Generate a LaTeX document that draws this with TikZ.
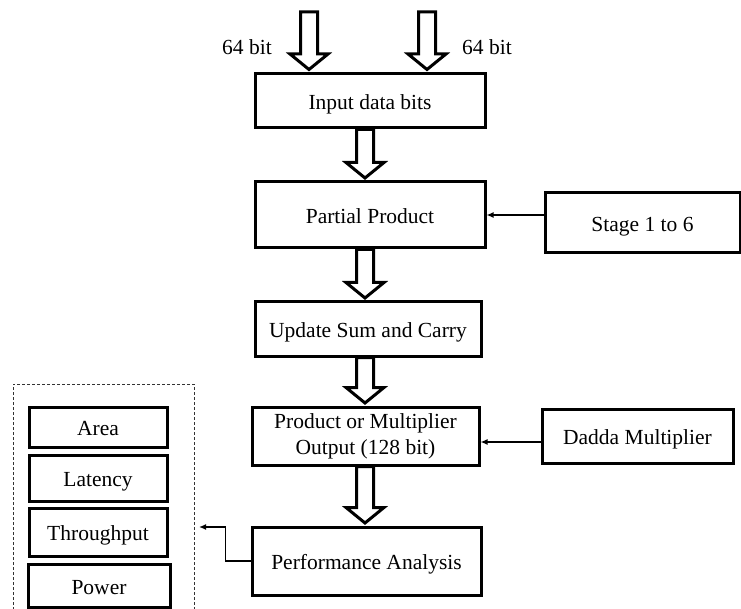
\documentclass[tikz,border=0pt]{standalone}
\usepackage{fontspec}
\setmainfont{Liberation Serif}
\usetikzlibrary{calc,arrows.meta}
\newcommand\blockarr[3]{%
  \draw[blk] let \p1=(#2), \p2=(#3) in
    ({#1-8.5},\y1) -- ({#1+8.5},\y1) -- ({#1+8.5},{\y2+18pt}) -- ({#1+19},{\y2+18pt})
    -- (#1,{\y2+2.5pt}) -- ({#1-19},{\y2+18pt}) -- ({#1-8.5},{\y2+18pt}) -- cycle;}
\begin{document}
\begin{tikzpicture}[x=1pt,y=-1pt,
  box/.style={draw,line width=3pt,inner sep=0pt,align=center,
    font=\fontsize{21.5}{26}\selectfont},
  sl/.style={text height=17pt,text depth=0pt},
  blk/.style={draw,line width=3pt,fill=white,line join=miter},
  thinarr/.style={line width=1.4pt,-{Latex[length=7pt,width=6pt]}},
  lbl/.style={font=\fontsize{21.5}{26}\selectfont,inner sep=0pt}]
\useasboundingbox (0,0) rectangle (741,609);
% main boxes
\node[box,sl,minimum width=230pt,minimum height=54pt] (inp) at (370,101) {Input data bits};
\node[box,sl,minimum width=230pt,minimum height=66pt] (pp) at (370,215) {Partial Product};
\node[box,sl,minimum width=195pt,minimum height=60pt] (stage) at (642.5,223) {Stage 1 to 6};
\node[box,sl,minimum width=226pt,minimum height=54pt] (upd) at (368,329) {Update Sum and Carry};
\node[box,minimum width=227pt,minimum height=58pt] (prod) at (365.5,436) {Product or Multiplier\\Output (128 bit)};
\node[box,sl,minimum width=191pt,minimum height=54pt] (dadda) at (637.5,436) {Dadda Multiplier};
\node[box,sl,minimum width=229pt,minimum height=68pt] (perf) at (366.5,561) {Performance Analysis};
% metric boxes
\node[box,sl,minimum width=138pt,minimum height=40pt] (area) at (98,427) {Area};
\node[box,sl,minimum width=138pt,minimum height=46pt] (lat) at (98,478) {Latency};
\node[box,sl,minimum width=138pt,minimum height=48pt] (thr) at (98,532) {Throughput};
\node[box,sl,minimum width=142pt,minimum height=43pt] (pow) at (99,585.5) {Power};
% dashed group
\draw[line width=1pt,dash pattern=on 3pt off 2pt,black!80] (13,615) -- (13,384) -- (194,384) -- (194,615);
% labels
\node[lbl] (l1) at (247,47) {64 bit};
\node[lbl] (l2) at (487,47) {64 bit};
% input arrows
\coordinate (t1) at (309,12);
\coordinate (t2) at (427,12);
\coordinate (b1) at (309,72);
\coordinate (b2) at (427,72);
\blockarr{309}{t1}{b1}
\blockarr{427}{t2}{b2}
% block arrows between boxes
\blockarr{365}{inp.south}{pp.north}
\blockarr{365}{pp.south}{upd.north}
\blockarr{365}{upd.south}{prod.north}
\blockarr{365}{prod.south}{perf.north}
% thin arrows
\draw[thinarr] (stage.west |- pp.east) -- (pp.east);
\draw[thinarr] ([yshift=-6pt]dadda.west) -- ([yshift=-6pt]prod.east);
\coordinate (pa) at (199,527);
\draw[thinarr] (perf.west) -- ++(-25,0) |- (pa);
\end{tikzpicture}
\end{document}
